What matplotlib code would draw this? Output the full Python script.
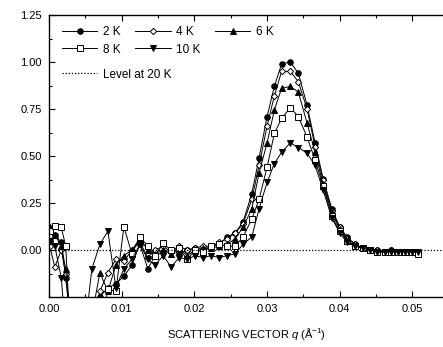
import matplotlib
matplotlib.use("Agg")
import matplotlib.pyplot as plt
from matplotlib.lines import Line2D
from matplotlib.ticker import MultipleLocator

plt.rcParams["font.family"] = ["Liberation Sans", "DejaVu Sans"]
plt.rcParams["mathtext.fontset"] = "custom"
plt.rcParams["mathtext.rm"] = "Liberation Sans"
plt.rcParams["mathtext.it"] = "Liberation Sans:italic"

# scattering vector q (1/Angstrom)
q = [0.0001, 0.0008, 0.0017, 0.0023, 0.0030, 0.0040, 0.0050, 0.0059, 0.0070, 0.0081,
     0.0092, 0.0103, 0.0114, 0.0125, 0.0136, 0.0146, 0.0157, 0.0168, 0.0179, 0.0190,
     0.0201, 0.0212, 0.0223, 0.0234, 0.0245, 0.0256, 0.0267, 0.0279, 0.0289, 0.0300,
     0.0310, 0.0320, 0.0332, 0.0343, 0.0355, 0.0366, 0.0377, 0.0389, 0.0400, 0.0410,
     0.0421, 0.0432, 0.0442, 0.0451, 0.0462, 0.0471, 0.0480, 0.0490, 0.0499, 0.0508]

k2 = [0.05, 0.08, 0.04, -0.15, -0.40, -0.50, -0.45, -0.35, -0.25, -0.20,
      -0.18, -0.14, -0.08, 0.03, -0.10, -0.03, -0.01, 0.00, -0.02, 0.00,
      0.01, 0.00, 0.02, 0.03, 0.07, 0.09, 0.15, 0.30, 0.49, 0.71,
      0.87, 0.99, 1.00, 0.94, 0.77, 0.57, 0.38, 0.22, 0.12, 0.07,
      0.03, 0.01, 0.00, 0.00, -0.01, 0.00, -0.01, -0.01, -0.01, -0.01]

k4 = [0.02, -0.09, 0.00, -0.13, -0.35, -0.50, -0.50, -0.40, -0.22, -0.12,
      -0.05, -0.06, 0.00, 0.04, -0.04, 0.00, 0.02, -0.01, 0.02, 0.00,
      0.01, 0.02, 0.02, 0.04, 0.06, 0.09, 0.14, 0.27, 0.45, 0.66,
      0.82, 0.95, 0.95, 0.895, 0.75, 0.55, 0.37, 0.21, 0.12, 0.06,
      0.03, 0.01, 0.00, 0.00, -0.01, 0.00, -0.01, -0.01, -0.01, -0.02]

k6 = [0.12, 0.08, 0.02, -0.10, -0.45, -0.55, -0.50, -0.35, -0.12, -0.22,
      -0.08, -0.03, 0.00, 0.06, 0.00, -0.02, 0.00, -0.02, 0.01, -0.03,
      0.00, 0.01, 0.01, 0.02, 0.03, 0.06, 0.12, 0.22, 0.41, 0.57,
      0.745, 0.86, 0.87, 0.84, 0.675, 0.52, 0.35, 0.20, 0.11, 0.05,
      0.02, 0.01, 0.00, -0.01, -0.01, 0.00, -0.01, -0.01, -0.01, -0.01]

k8 = [0.10, 0.13, 0.12, 0.02, -0.50, -0.60, -0.60, -0.50, -0.45, -0.21,
      -0.22, 0.124, -0.02, 0.07, 0.02, -0.03, 0.035, 0.00, 0.01, -0.05,
      0.00, -0.01, 0.02, 0.03, 0.02, 0.02, 0.07, 0.165, 0.27, 0.44,
      0.62, 0.70, 0.757, 0.71, 0.60, 0.48, 0.34, 0.18, 0.10, 0.05,
      0.02, 0.01, 0.00, -0.01, -0.01, -0.01, -0.01, -0.01, -0.01, -0.02]

k10 = [0.05, 0.02, -0.15, -0.45, -0.60, -0.55, -0.40, -0.10, 0.03, 0.10,
       -0.20, -0.10, -0.05, 0.03, -0.05, -0.08, -0.03, -0.09, -0.04, -0.05,
       -0.03, -0.04, -0.03, -0.04, -0.03, -0.02, 0.03, 0.07, 0.22, 0.36,
       0.46, 0.52, 0.57, 0.545, 0.515, 0.45, 0.32, 0.17, 0.09, 0.04,
       0.02, 0.01, 0.00, -0.01, -0.01, -0.01, -0.01, -0.01, -0.01, -0.01]

series = [
    ("2 K", k2, "o", "black"),
    ("4 K", k4, "D", "white"),
    ("6 K", k6, "^", "black"),
    ("8 K", k8, "s", "white"),
    ("10 K", k10, "v", "black"),
]

fig = plt.figure(figsize=(4.43, 3.47), dpi=100)
ax = fig.add_axes([49 / 443, 50 / 347, 394 / 443, 282 / 347])

handles = {}
for label, vals, mk, fc in series:
    ms = 3.2 if mk == "D" else 4
    (h,) = ax.plot(q, vals, color="black", lw=0.7, marker=mk, ms=ms,
                   mfc=fc, mec="black", mew=0.7, label=label)
    handles[label] = h

lvl = ax.axhline(0, color="black", lw=0.9, ls=(0, (1, 1.5)))

ax.set_xlim(0, 0.0542)
ax.set_ylim(-0.25, 1.25)
ax.xaxis.set_minor_locator(MultipleLocator(0.005))
ax.yaxis.set_minor_locator(MultipleLocator(0.125))
ax.set_xticks([0, 0.01, 0.02, 0.03, 0.04, 0.05])
ax.set_xticklabels(["0.00", "0.01", "0.02", "0.03", "0.04", "0.05"])
ax.set_yticks([0, 0.25, 0.5, 0.75, 1.0, 1.25])
ax.set_yticklabels(["0.00", "0.25", "0.50", "0.75", "1.00", "1.25"])
ax.tick_params(which="both", direction="in", top=True, right=False,
               labelsize=8, width=0.8)
ax.tick_params(which="major", length=4, pad=5)
ax.tick_params(which="minor", length=2)
ax.spines["right"].set_visible(False)
for s in ["left", "bottom", "top"]:
    ax.spines[s].set_linewidth(1.0)

ax.set_xlabel(r"SCATTERING VECTOR $q$ (Å$^{-1}$)", fontsize=8, labelpad=9)

order = ["2 K", "8 K", "4 K", "10 K", "6 K"]
leg1 = ax.legend([handles[k] for k in order], order, ncol=3, loc="upper left",
                 bbox_to_anchor=(0.015, 0.985), frameon=False, fontsize=8.5,
                 handlelength=3.0, handletextpad=0.5, columnspacing=1.2,
                 labelspacing=0.45, borderaxespad=0.2)
ax.add_artist(leg1)
lvl_handle = Line2D([], [], color="black", lw=0.9, ls=(0, (1, 1.5)))
ax.legend([lvl_handle], ["Level at 20 K"], loc="upper left",
          bbox_to_anchor=(0.015, 0.835), frameon=False, fontsize=8.5,
          handlelength=3.0, handletextpad=0.5, borderaxespad=0.2)

fig.savefig("out.png", dpi=100)
